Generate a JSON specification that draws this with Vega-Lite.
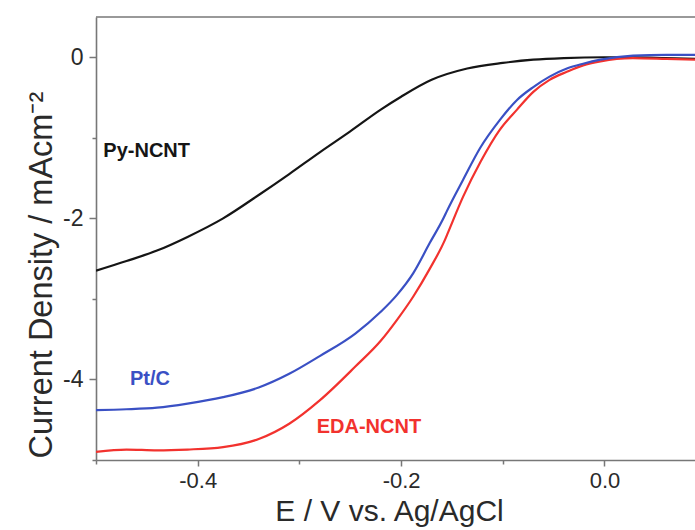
{
  "$schema": "https://vega.github.io/schema/vega-lite/v6.json",
  "width": 599,
  "height": 443,
  "autosize": {"type": "none"},
  "padding": {"left": 96, "top": 17, "right": 0, "bottom": 70},
  "background": "white",
  "config": {"view": {"stroke": null}, "font": "Liberation Sans"},
  "datasets": {
    "curves": [
      {"series": "Py-NCNT", "E": -0.5, "j": -2.65},
      {"series": "Py-NCNT", "E": -0.47, "j": -2.53},
      {"series": "Py-NCNT", "E": -0.44, "j": -2.4},
      {"series": "Py-NCNT", "E": -0.41, "j": -2.23},
      {"series": "Py-NCNT", "E": -0.375, "j": -2.0},
      {"series": "Py-NCNT", "E": -0.34, "j": -1.71},
      {"series": "Py-NCNT", "E": -0.31, "j": -1.45},
      {"series": "Py-NCNT", "E": -0.28, "j": -1.18},
      {"series": "Py-NCNT", "E": -0.25, "j": -0.92},
      {"series": "Py-NCNT", "E": -0.22, "j": -0.65},
      {"series": "Py-NCNT", "E": -0.2, "j": -0.49},
      {"series": "Py-NCNT", "E": -0.17, "j": -0.28},
      {"series": "Py-NCNT", "E": -0.135, "j": -0.14},
      {"series": "Py-NCNT", "E": -0.1, "j": -0.07},
      {"series": "Py-NCNT", "E": -0.07, "j": -0.03},
      {"series": "Py-NCNT", "E": -0.04, "j": -0.01},
      {"series": "Py-NCNT", "E": 0.0, "j": 0.0},
      {"series": "Py-NCNT", "E": 0.03, "j": 0.0},
      {"series": "Py-NCNT", "E": 0.06, "j": -0.01},
      {"series": "Py-NCNT", "E": 0.089, "j": -0.02},

      {"series": "EDA-NCNT", "E": -0.5, "j": -4.9},
      {"series": "EDA-NCNT", "E": -0.47, "j": -4.87},
      {"series": "EDA-NCNT", "E": -0.44, "j": -4.88},
      {"series": "EDA-NCNT", "E": -0.41, "j": -4.87},
      {"series": "EDA-NCNT", "E": -0.375, "j": -4.84},
      {"series": "EDA-NCNT", "E": -0.34, "j": -4.74},
      {"series": "EDA-NCNT", "E": -0.31, "j": -4.55},
      {"series": "EDA-NCNT", "E": -0.28, "j": -4.26},
      {"series": "EDA-NCNT", "E": -0.245, "j": -3.84},
      {"series": "EDA-NCNT", "E": -0.22, "j": -3.52},
      {"series": "EDA-NCNT", "E": -0.204, "j": -3.26},
      {"series": "EDA-NCNT", "E": -0.188, "j": -2.97},
      {"series": "EDA-NCNT", "E": -0.172, "j": -2.63},
      {"series": "EDA-NCNT", "E": -0.157, "j": -2.27},
      {"series": "EDA-NCNT", "E": -0.154, "j": -2.18},
      {"series": "EDA-NCNT", "E": -0.139, "j": -1.73},
      {"series": "EDA-NCNT", "E": -0.122, "j": -1.3},
      {"series": "EDA-NCNT", "E": -0.103, "j": -0.9},
      {"series": "EDA-NCNT", "E": -0.086, "j": -0.65},
      {"series": "EDA-NCNT", "E": -0.07, "j": -0.43},
      {"series": "EDA-NCNT", "E": -0.054, "j": -0.28},
      {"series": "EDA-NCNT", "E": -0.037, "j": -0.18},
      {"series": "EDA-NCNT", "E": -0.021, "j": -0.1},
      {"series": "EDA-NCNT", "E": -0.004, "j": -0.05},
      {"series": "EDA-NCNT", "E": 0.012, "j": -0.02},
      {"series": "EDA-NCNT", "E": 0.028, "j": -0.01},
      {"series": "EDA-NCNT", "E": 0.061, "j": -0.02},
      {"series": "EDA-NCNT", "E": 0.089, "j": -0.03},

      {"series": "Pt/C", "E": -0.5, "j": -4.38},
      {"series": "Pt/C", "E": -0.47, "j": -4.37},
      {"series": "Pt/C", "E": -0.44, "j": -4.35},
      {"series": "Pt/C", "E": -0.41, "j": -4.3},
      {"series": "Pt/C", "E": -0.375, "j": -4.22},
      {"series": "Pt/C", "E": -0.34, "j": -4.1},
      {"series": "Pt/C", "E": -0.31, "j": -3.93},
      {"series": "Pt/C", "E": -0.28, "j": -3.71},
      {"series": "Pt/C", "E": -0.245, "j": -3.43},
      {"series": "Pt/C", "E": -0.22, "j": -3.16},
      {"series": "Pt/C", "E": -0.204, "j": -2.95},
      {"series": "Pt/C", "E": -0.188, "j": -2.68},
      {"series": "Pt/C", "E": -0.172, "j": -2.31},
      {"series": "Pt/C", "E": -0.158, "j": -1.99},
      {"series": "Pt/C", "E": -0.155, "j": -1.91},
      {"series": "Pt/C", "E": -0.139, "j": -1.52},
      {"series": "Pt/C", "E": -0.122, "j": -1.12},
      {"series": "Pt/C", "E": -0.103, "j": -0.78},
      {"series": "Pt/C", "E": -0.086, "j": -0.53},
      {"series": "Pt/C", "E": -0.07, "j": -0.37},
      {"series": "Pt/C", "E": -0.054, "j": -0.24},
      {"series": "Pt/C", "E": -0.037, "j": -0.14},
      {"series": "Pt/C", "E": -0.021, "j": -0.08},
      {"series": "Pt/C", "E": -0.004, "j": -0.03},
      {"series": "Pt/C", "E": 0.028, "j": 0.02},
      {"series": "Pt/C", "E": 0.061, "j": 0.03},
      {"series": "Pt/C", "E": 0.089, "j": 0.03}
    ],
    "labels": [
      {"series": "Py-NCNT", "E": -0.4928, "j": -1.235},
      {"series": "Pt/C", "E": -0.4666, "j": -4.07},
      {"series": "EDA-NCNT", "E": -0.283, "j": -4.67}
    ]
  },
  "layer": [
    {
      "data": {"name": "curves"},
      "mark": {"type": "line", "strokeWidth": 2.2, "clip": true, "interpolate": "monotone"},
      "encoding": {
        "x": {
          "field": "E",
          "type": "quantitative",
          "scale": {"domain": [-0.5, 0.089], "nice": false, "zero": false},
          "axis": {
            "title": "E / V vs. Ag/AgCl",
            "values": [-0.5, -0.4, -0.3, -0.2, -0.1, 0],
            "labelExpr": "round(datum.value*10) % 2 === 0 ? (datum.value < -0.001 ? '-' : '') + format(abs(datum.value), '.1f') : ''",
            "tickSize": {"condition": {"test": "round(datum.value*10) % 2 === 0", "value": 6}, "value": 4},
            "grid": false,
            "domainColor": "#777777",
            "domainWidth": 1.6,
            "tickColor": "#777777",
            "tickWidth": 1.5,
            "labelFontSize": 22,
            "labelColor": "#2a2a2a",
            "labelPadding": 4,
            "labelFlush": false,
            "titleFontSize": 30,
            "titleFontWeight": "normal",
            "titleColor": "#2a2a2a",
            "titleX": 293,
            "titleY": 60,
            "titleAlign": "center",
            "titleBaseline": "alphabetic"
          }
        },
        "y": {
          "field": "j",
          "type": "quantitative",
          "scale": {"domain": [-5, 0.5], "nice": false, "zero": false},
          "axis": {
            "title": "Current Density / mAcm⁻²",
            "values": [0, -1, -2, -3, -4, -5],
            "labelExpr": "datum.value % 2 === 0 ? (datum.value < 0 ? '-' : '') + format(abs(datum.value), 'd') : ''",
            "tickSize": {"condition": {"test": "datum.value % 2 === 0", "value": 7}, "value": 4},
            "grid": false,
            "domainColor": "#777777",
            "domainWidth": 1.6,
            "tickColor": "#777777",
            "tickWidth": 1.5,
            "labelFontSize": 23,
            "labelColor": "#2a2a2a",
            "labelPadding": 6,
            "labelFlush": false,
            "titleFontSize": 32.5,
            "titleFontWeight": "normal",
            "titleColor": "#2a2a2a",
            "titleX": -45,
            "titleY": 441,
            "titleAngle": 270,
            "titleAlign": "left",
            "titleBaseline": "alphabetic"
          }
        },
        "color": {
          "field": "series",
          "type": "nominal",
          "scale": {"domain": ["Py-NCNT", "Pt/C", "EDA-NCNT"], "range": ["#151515", "#3a50c4", "#f2322e"]},
          "legend": null
        }
      }
    },
    {
      "data": {"name": "labels"},
      "mark": {"type": "text", "align": "left", "baseline": "alphabetic", "fontSize": 20, "fontWeight": "bold"},
      "encoding": {
        "x": {"field": "E", "type": "quantitative"},
        "y": {"field": "j", "type": "quantitative"},
        "text": {"field": "series"},
        "color": {"field": "series", "type": "nominal", "legend": null}
      }
    },
    {
      "data": {"values": [{}]},
      "mark": {"type": "rule", "color": "#777777", "strokeWidth": 1.6},
      "encoding": {"y": {"datum": 0.5, "type": "quantitative"}}
    }
  ]
}
